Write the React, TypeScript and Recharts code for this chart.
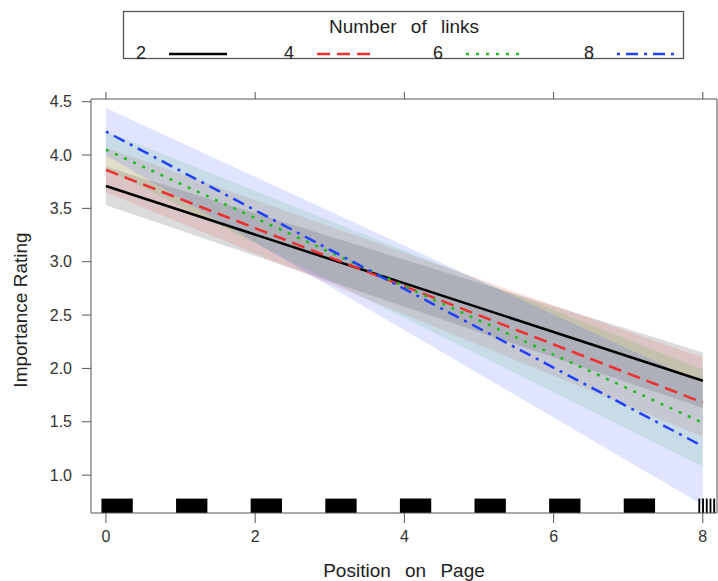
import { Area, ComposedChart, Line, ReferenceArea, XAxis, YAxis } from "recharts";

// fitted lines and confidence bands, read at position 0 and 8
const positions = [0, 8];
const linkCounts = ["2", "4", "6", "8"];

const fit2 = [3.71, 1.885];
const low2 = [3.53, 1.63];
const high2 = [3.89, 2.15];

const fit4 = [3.86, 1.68];
const low4 = [3.65, 1.36];
const high4 = [4.07, 2.1];

const fit6 = [4.05, 1.49];
const low6 = [3.87, 1.08];
const high6 = [4.22, 1.99];

const fit8 = [4.22, 1.27];
const low8 = [4.0, 0.72];
const high8 = [4.44, 1.86];

const xTicks = [0, 2, 4, 6, 8];
const yTicks = [1.0, 1.5, 2.0, 2.5, 3.0, 3.5, 4.0, 4.5];

// rug of (jittered) positions
const rugStart = [-0.06, 0.94, 1.94, 2.94, 3.94, 4.94, 5.94, 6.94, 7.94, 7.99, 8.04, 8.09, 8.14];
const rugEnd = [0.36, 1.36, 2.36, 3.36, 4.36, 5.36, 6.36, 7.36, 7.965, 8.015, 8.065, 8.115, 8.165];
const rugTop = 0.78;

const series = [
  { name: linkCounts[0], key: "n2", color: "#000000", dash: undefined, fit: fit2, low: low2, high: high2, band: 0.14 },
  { name: linkCounts[1], key: "n4", color: "#ee3030", dash: "13 7", fit: fit4, low: low4, high: high4, band: 0.13 },
  { name: linkCounts[2], key: "n6", color: "#22bb22", dash: "3 7", fit: fit6, low: low6, high: high6, band: 0.13 },
  { name: linkCounts[3], key: "n8", color: "#2040ff", dash: "3 6 12 6", fit: fit8, low: low8, high: high8, band: 0.14 },
];

const data = positions.map((x, i) => {
  const row: Record<string, any> = { x };
  series.forEach((s) => {
    row[s.key] = s.fit[i];
    row[s.key + "band"] = [s.low[i], s.high[i]];
  });
  return row;
});

const font = "'Liberation Sans', Arial, sans-serif";
const axisColor = "#555";

function Legend() {
  const xs = [141, 289, 438, 589];
  return (
    <svg width={718} height={70} style={{ position: "absolute", left: 0, top: 0 }}>
      <rect x={123.5} y={11.5} width={560} height={47} fill="#fff" stroke="#555" strokeWidth={1.3} />
      <text x={404} y={33} textAnchor="middle" fontSize={19} fill="#222" style={{ wordSpacing: 9 }}>
        Number of links
      </text>
      {series.map((s, i) => (
        <g key={s.key}>
          <text x={xs[i]} y={59} textAnchor="middle" fontSize={18} fill="#222">
            {s.name}
          </text>
          <line
            x1={xs[i] + 28}
            x2={xs[i] + 86}
            y1={54}
            y2={54}
            stroke={s.color}
            strokeWidth={2.5}
            strokeDasharray={s.dash}
          />
        </g>
      ))}
    </svg>
  );
}

export default function App() {
  return (
    <div style={{ position: "absolute", left: 0, top: 0, width: 718, height: 581, fontFamily: font, background: "#fff" }}>
      <Legend />
      <ComposedChart width={718} height={581} data={data} margin={{ top: 89, left: 31, right: 0, bottom: 38 }}>
        <XAxis
          xAxisId="b"
          dataKey="x"
          type="number"
          domain={[-0.2, 8.19]}
          ticks={xTicks}
          allowDataOverflow
          height={30}
          tickSize={10}
          tickMargin={8}
          stroke={axisColor}
          tick={{ fill: "#333", fontSize: 16 }}
        />
        <XAxis
          xAxisId="t"
          orientation="top"
          dataKey="x"
          type="number"
          domain={[-0.2, 8.19]}
          ticks={xTicks}
          allowDataOverflow
          height={10}
          tickSize={7}
          tickFormatter={() => ""}
          stroke={axisColor}
        />
        <YAxis
          yAxisId="l"
          type="number"
          domain={[0.645, 4.525]}
          ticks={yTicks}
          allowDataOverflow
          width={60}
          tickSize={9}
          tickMargin={10}
          tickFormatter={(v: number) => v.toFixed(1)}
          stroke={axisColor}
          tick={{ fill: "#333", fontSize: 16 }}
        />
        <YAxis
          yAxisId="r"
          orientation="right"
          type="number"
          domain={[0.645, 4.525]}
          width={1}
          tick={false}
          tickLine={false}
          stroke={axisColor}
        />
        {series.map((s) => (
          <Area
            key={s.key + "band"}
            xAxisId="b"
            yAxisId="l"
            type="linear"
            dataKey={s.key + "band"}
            stroke="none"
            fill={s.color}
            fillOpacity={s.band}
            dot={false}
            activeDot={false}
            isAnimationActive={false}
          />
        ))}
        {series.map((s) => (
          <Line
            key={s.key}
            xAxisId="b"
            yAxisId="l"
            type="linear"
            dataKey={s.key}
            stroke={s.color}
            strokeWidth={2.5}
            strokeDasharray={s.dash}
            dot={false}
            activeDot={false}
            isAnimationActive={false}
          />
        ))}
        {rugStart.map((x1, i) => (
          <ReferenceArea
            key={"rug" + i}
            xAxisId="b"
            yAxisId="l"
            x1={x1}
            x2={rugEnd[i]}
            y1={0.645}
            y2={rugTop}
            fill="#000"
            fillOpacity={1}
            stroke="none"
          />
        ))}
      </ComposedChart>
      <div
        style={{
          position: "absolute",
          left: 21,
          top: 310,
          transform: "translate(-50%, -50%) rotate(-90deg)",
          fontSize: 19,
          color: "#222",
          whiteSpace: "nowrap",
        }}
      >
        Importance Rating
      </div>
      <div
        style={{
          position: "absolute",
          left: 404,
          top: 571,
          transform: "translate(-50%, -50%)",
          fontSize: 19,
          color: "#222",
          whiteSpace: "nowrap",
          wordSpacing: 9,
        }}
      >
        Position on Page
      </div>
    </div>
  );
}
